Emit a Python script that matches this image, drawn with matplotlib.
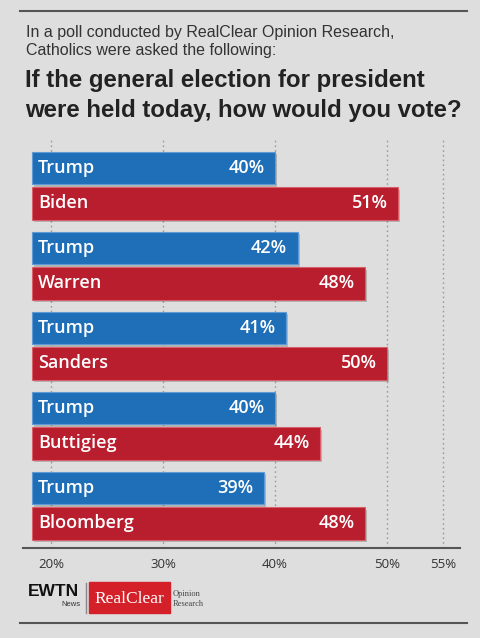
import matplotlib.pyplot as plt
import matplotlib.patheffects as pe
from matplotlib.patches import Rectangle
from matplotlib.lines import Line2D

# data
trump_vals = [40, 42, 41, 40, 39]
dem_names = ['Biden', 'Warren', 'Sanders', 'Buttigieg', 'Bloomberg']
dem_vals = [51, 48, 50, 44, 48]
tick_vals = [20, 30, 40, 50, 55]
tick_labels = ['20%', '30%', '40%', '50%', '55%']

blue = '#1f6fb8'
red = '#b81e2d'
bg = '#dedede'
base = 18.3

W, H = 480, 638
fig = plt.figure(figsize=(W / 100, H / 100), dpi=100, facecolor=bg)

def fx(px):
    return px / W

def fy(py):
    return 1 - py / H

ax = fig.add_axes([fx(23), fy(548), fx(460) - fx(23), fy(140) - fy(548)])
ax.set_facecolor(bg)
ax.set_xlim(17.5, 56.5)
ax.set_ylim(4.75, -0.35)

for t in tick_vals:
    ax.axvline(t, color='#9a9a9a', lw=1, ls=(0, (1.2, 2.2)), zorder=0)

shadow = [pe.SimplePatchShadow(offset=(1.5, -2), alpha=0.18, shadow_rgbFace='#000000'), pe.Normal()]
font_bar = dict(family='Open Sans', fontweight='semibold', fontsize=13, color='white', va='center')

for i in range(len(dem_names)):
    yt = i
    yd = i + 0.44
    b1 = ax.barh(yt, trump_vals[i] - base, left=base, height=0.41, color=blue,
                 edgecolor='#5d9ad6', lw=0.8, zorder=2)
    b2 = ax.barh(yd, dem_vals[i] - base, left=base, height=0.41, color=red,
                 edgecolor='#d8606b', lw=0.8, zorder=2)
    for b in (b1, b2):
        for p in b.patches:
            p.set_path_effects(shadow)
    ax.annotate('Trump', (base, yt), xytext=(4.5, 0), textcoords='offset points', ha='left', zorder=3, **font_bar)
    ax.annotate(f'{trump_vals[i]}%', (trump_vals[i], yt), xytext=(-7.5, 0), textcoords='offset points', ha='right', zorder=3, **font_bar)
    ax.annotate(dem_names[i], (base, yd), xytext=(4.5, 0), textcoords='offset points', ha='left', zorder=3, **font_bar)
    ax.annotate(f'{dem_vals[i]}%', (dem_vals[i], yd), xytext=(-7.5, 0), textcoords='offset points', ha='right', zorder=3, **font_bar)

ax.set_xticks(tick_vals)
ax.set_xticklabels(tick_labels, family='Open Sans', fontsize=9.5, color='#333333')
ax.tick_params(axis='x', length=0, pad=7)
ax.set_yticks([])
for s in ['top', 'left', 'right']:
    ax.spines[s].set_visible(False)
ax.spines['bottom'].set_color('#555555')
ax.spines['bottom'].set_linewidth(1.5)

# frame lines
fig.add_artist(Line2D([fx(20), fx(467)], [fy(11), fy(11)], color='#555555', lw=1.5))
fig.add_artist(Line2D([fx(20), fx(467)], [fy(623), fy(623)], color='#555555', lw=1.5))

# headings
fig.text(fx(26), fy(32), 'In a poll conducted by RealClear Opinion Research,', family='Liberation Sans',
         fontsize=11.5, color='#333333', va='center')
fig.text(fx(26), fy(51), 'Catholics were asked the following:', family='Liberation Sans',
         fontsize=11.5, color='#333333', va='center')
fig.text(fx(25), fy(81), 'If the general election for president', family='Liberation Sans',
         fontweight='bold', fontsize=17.3, color='#222222', va='center')
fig.text(fx(25), fy(111), 'were held today, how would you vote?', family='Liberation Sans',
         fontweight='bold', fontsize=17.3, color='#222222', va='center')

# logos
fig.text(fx(28), fy(591), 'EWTN', family='Liberation Sans', fontweight='bold', fontsize=12.5,
         color='#111111', va='center')
fig.text(fx(81), fy(604), 'News', family='Liberation Sans', fontsize=5.5, color='#333333',
         va='center', ha='right')
fig.add_artist(Line2D([fx(86), fx(86)], [fy(583), fy(613)], color='#888888', lw=1))
fig.add_artist(Rectangle((fx(89), fy(613)), fx(170) - fx(89), fy(582) - fy(613),
                         transform=fig.transFigure, color='#d42129'))
fig.text(fx(129), fy(599), 'RealClear', family='Liberation Serif', fontsize=12.5, color='white',
         va='center', ha='center')
fig.text(fx(173), fy(594), 'Opinion', family='Liberation Serif', fontsize=6, color='#444444', va='center')
fig.text(fx(173), fy(604), 'Research', family='Liberation Serif', fontsize=6, color='#444444', va='center')

fig.savefig('out.png', dpi=100, facecolor=bg)
